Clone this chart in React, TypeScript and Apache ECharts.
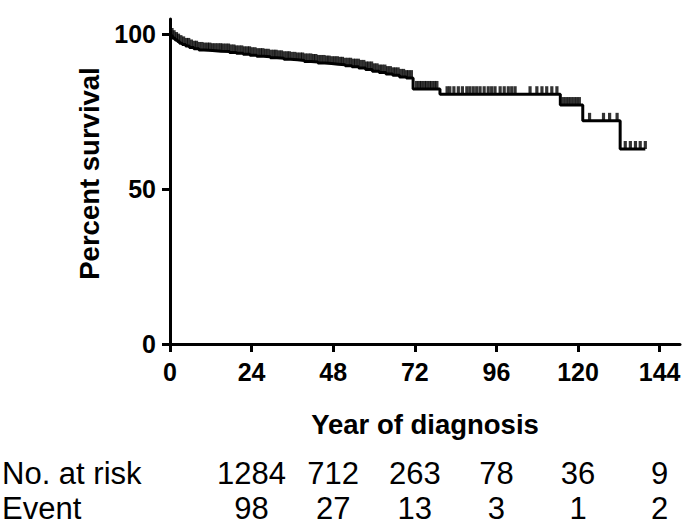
import React, { useEffect, useRef } from "react";
import * as echarts from "echarts";

const xTicks = [0, 24, 48, 72, 96, 120, 144];
const yTicks = [0, 50, 100];

// Kaplan–Meier steps: time (months) and survival (%) after each drop
const stepTimes = [
  0, 0.3, 0.8, 1.5, 2.2, 2.8, 3.6, 4.6, 5.7, 7, 8.5, 10, 12.5, 15, 17.5, 19.5,
  21.5, 23.5, 25.5, 27.5, 29.5, 31.5, 33.5, 35.5, 37.5, 39.5, 41.5, 43.5, 45.5,
  47.5, 49.5, 51.5, 53.5, 55.5, 57.5, 59.5, 61.5, 63.5, 65.5, 67.5, 69.5, 71.5,
  79.4, 114.8, 121.4, 132.4, 139.8,
];
const stepSurvival = [
  100, 99.5, 98.8, 98.2, 97.7, 97.2, 96.8, 96.3, 95.8, 95.4, 95.0, 94.8, 94.6,
  94.5, 94.2, 93.9, 93.6, 93.3, 93.0, 92.8, 92.5, 92.3, 92.0, 91.8, 91.6, 91.3,
  91.1, 90.8, 90.6, 90.4, 90.2, 89.9, 89.6, 89.2, 88.7, 88.1, 87.7, 87.2, 86.8,
  86.3, 85.9, 82.4, 80.7, 77.2, 72.1, 63.0, 63.0,
];

// Censored observations (months)
const censorTimes = [
  0.6, 1.2, 1.9, 2.5, 3.2, 4.0, 4.8, 5.5, 6.3, 7.1, 7.8, 8.6, 9.4, 10.2, 11.0,
  11.7, 12.5, 13.3, 14.1, 14.9, 15.6, 16.4, 17.2, 18.0, 18.8, 19.5, 20.3, 21.1,
  21.9, 22.7, 23.4, 24.2, 25.0, 25.8, 26.6, 27.3, 28.1, 28.9, 29.7, 30.5, 31.2,
  32.0, 32.8, 33.6, 34.4, 35.1, 35.9, 36.7, 37.5, 38.3, 39.0, 39.8, 40.6, 41.4,
  42.2, 42.9, 43.7, 44.5, 45.3, 46.1, 46.8, 47.6, 48.4, 49.2, 50.0, 50.7, 51.5,
  52.3, 53.1, 53.9, 54.6, 55.4, 56.2, 57.0, 57.8, 58.5, 59.3, 60.1, 60.9, 61.7,
  62.4, 63.2, 64.0, 64.8, 65.6, 66.3, 67.1, 67.9, 68.7, 69.5, 70.2, 71.0, 72.5,
  73.3, 74.0, 74.8, 75.5, 76.3, 77.0, 77.8, 78.5, 81.5, 82.3, 83.5, 84.8, 86.0,
  87.3, 88.2, 89.2, 90.2, 91.2, 92.4, 93.6, 94.6, 95.6, 97.1, 98.3, 99.5, 100.5,
  101.5, 105.9, 107.9, 109.4, 110.8, 112.3, 113.8, 115.6, 116.4, 117.2, 118.0,
  118.8, 119.6, 120.4, 123.4, 127.5, 129.3, 131.5, 133.9, 135.4, 136.9, 138.3,
  139.8,
];

// Number-at-risk table
const tableColumns = [24, 48, 72, 96, 120, 144];
const atRisk = [1284, 712, 263, 78, 36, 9];
const events = [98, 27, 13, 3, 1, 2];
const rowLabels = ["No. at risk", "Event"];

function survivalAt(t: number): number {
  let s = stepSurvival[0];
  for (let i = 0; i < stepTimes.length; i++) {
    if (stepTimes[i] <= t) s = stepSurvival[i];
  }
  return s;
}

const FONT = '"Liberation Sans", Arial, Helvetica, sans-serif';

export default function App() {
  const ref = useRef<HTMLDivElement>(null);
  useEffect(() => {
    document.body.style.margin = "0";
    const chart = echarts.init(ref.current!, undefined, { renderer: "svg" });
    const axisColor = "#000";
    chart.setOption({
      animation: false,
      backgroundColor: "#fff",
      grid: { left: 170, top: 19, width: 510, height: 325 },
      xAxis: {
        type: "value",
        min: 0,
        max: 150,
        axisLine: { onZero: false, lineStyle: { color: axisColor, width: 3 } },
        axisTick: {
          customValues: xTicks,
          length: 8,
          lineStyle: { color: axisColor, width: 3 },
        },
        axisLabel: {
          customValues: xTicks,
          fontSize: 25,
          fontWeight: "bold",
          color: "#000",
          margin: 15,
          fontFamily: FONT,
        },
        splitLine: { show: false },
        name: "Year of diagnosis",
        nameLocation: "middle",
        nameGap: 66,
        nameTextStyle: {
          fontSize: 27.5,
          fontWeight: "bold",
          color: "#000",
          fontFamily: FONT,
        },
      },
      yAxis: {
        type: "value",
        min: 0,
        max: 105,
        axisLine: { onZero: false, lineStyle: { color: axisColor, width: 3 } },
        axisTick: {
          customValues: yTicks,
          length: 8,
          lineStyle: { color: axisColor, width: 3 },
        },
        axisLabel: {
          customValues: yTicks,
          fontSize: 25,
          fontWeight: "bold",
          color: "#000",
          margin: 14,
          fontFamily: FONT,
        },
        splitLine: { show: false },
        name: "Percent survival",
        nameLocation: "middle",
        nameGap: 66,
        nameTextStyle: {
          fontSize: 27.5,
          fontWeight: "bold",
          color: "#000",
          fontFamily: FONT,
          padding: [0, 0, 0, 16],
        },
      },
      series: [
        {
          type: "line",
          step: "end",
          data: stepTimes.map((t, i) => [t, stepSurvival[i]]),
          symbol: "none",
          lineStyle: { color: "#000", width: 3 },
          silent: true,
        },
        {
          type: "scatter",
          data: censorTimes.map((t) => [t, survivalAt(t)]),
          symbol: "rect",
          symbolSize: [3.2, 8],
          symbolOffset: [0, -4],
          itemStyle: { color: "#000" },
          silent: true,
        },
      ],
    });

    const rowY = [473, 508];
    const graphics: any[] = [];
    rowLabels.forEach((label, r) => {
      graphics.push({
        type: "text",
        x: 2,
        y: rowY[r],
        style: {
          text: label,
          fontSize: 31,
          fontFamily: FONT,
          fill: "#000",
          align: "left",
          verticalAlign: "middle",
        },
      });
    });
    [atRisk, events].forEach((row, r) => {
      row.forEach((v, i) => {
        const px = chart.convertToPixel({ xAxisIndex: 0 }, tableColumns[i]) as number;
        graphics.push({
          type: "text",
          x: px,
          y: rowY[r],
          style: {
            text: String(v),
            fontSize: 31,
            fontFamily: FONT,
            fill: "#000",
            align: "center",
            verticalAlign: "middle",
          },
        });
      });
    });
    chart.setOption({ graphic: graphics });

    return () => chart.dispose();
  }, []);
  return <div ref={ref} style={{ width: 685, height: 528 }} />;
}
